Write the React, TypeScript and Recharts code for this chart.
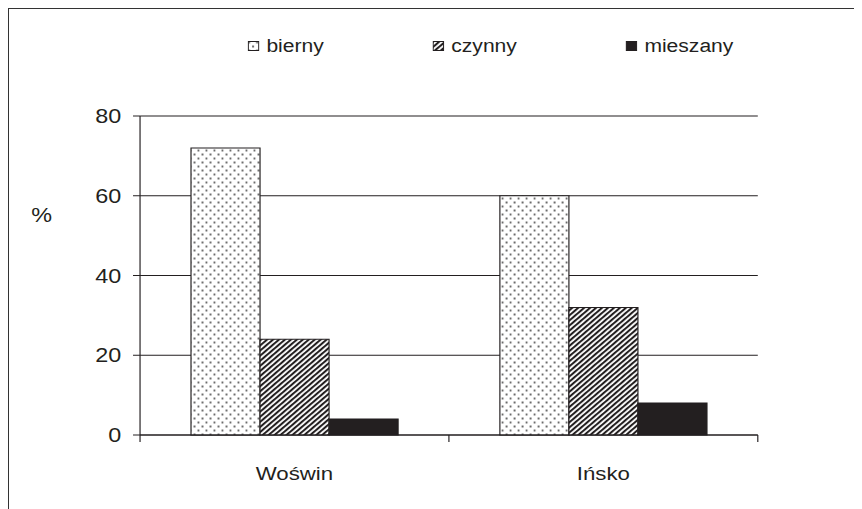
import { BarChart, Bar, XAxis, YAxis, CartesianGrid, Legend } from 'recharts';

const categories = ['Woświn', 'Ińsko'];
const bierny = [72, 60];
const czynny = [24, 32];
const mieszany = [4, 8];
const yTicks = [0, 20, 40, 60, 80];

const data = categories.map((name, i) => ({
  name,
  bierny: bierny[i],
  czynny: czynny[i],
  mieszany: mieszany[i],
}));

const INK = '#231f20';
// the source picture is stretched horizontally
const SX = 1.17;

const Patterns = () => (
  <svg width={0} height={0} style={{ position: 'absolute' }}>
    <defs>
      <pattern id='dots' patternUnits='userSpaceOnUse' width={6.84} height={8}>
        <rect width={6.84} height={8} fill='#fff' />
        <rect x={0.4} y={0.5} width={1.6} height={2} fill='#6a6a6a' />
        <rect x={3.82} y={4.5} width={1.6} height={2} fill='#6a6a6a' />
      </pattern>
      <pattern
        id='hatch'
        patternUnits='userSpaceOnUse'
        width={3.6}
        height={3.6}
        patternTransform='rotate(45)'
      >
        <rect width={3.6} height={3.6} fill='#fff' />
        <rect width={1.9} height={3.6} fill={INK} />
      </pattern>
    </defs>
  </svg>
);

const XTick = (props: any) => {
  const { x, y, payload, index, visibleTicksCount } = props;
  const half = payload?.offset ?? 0;
  const last = index === visibleTicksCount - 1;
  return (
    <g>
      <line x1={x - half} x2={x - half} y1={y} y2={y + 7} stroke={INK} />
      {last && <line x1={x + half} x2={x + half} y1={y} y2={y + 7} stroke={INK} />}
      <text x={x} y={y + 45} textAnchor='middle' fill={INK} fontSize={19}>
        {payload.value}
      </text>
    </g>
  );
};

const items = [
  { label: 'bierny', fill: 'url(#dots)' },
  { label: 'czynny', fill: 'url(#hatch)' },
  { label: 'mieszany', fill: INK },
];

const LegendContent = () => (
  <div style={{ display: 'flex', gap: 93, alignItems: 'center', fontSize: 18, color: INK, lineHeight: '20px' }}>
    {items.map((it) => (
      <div key={it.label} style={{ display: 'flex', alignItems: 'center', whiteSpace: 'nowrap' }}>
        <svg width={10} height={10}>
          <rect x={0.5} y={0.5} width={9} height={9} fill={it.fill} stroke={INK} />
        </svg>
        <span style={{ marginLeft: 6 }}>{it.label}</span>
      </div>
    ))}
  </div>
);

export default function App() {
  return (
    <div
      style={{
        width: 853,
        height: 500,
        borderLeft: '1px solid #333',
        borderTop: '1px solid #333',
        overflow: 'hidden',
        fontFamily: '"Liberation Sans", Arial, sans-serif',
      }}
    >
      <Patterns />
      <div style={{ transform: `scaleX(${SX})`, transformOrigin: '0 0', width: 729, height: 500 }}>
        <BarChart
          width={729}
          height={500}
          data={data}
          margin={{ top: 107, right: 89, bottom: 34, left: 0 }}
          barCategoryGap='16.5%'
          barGap={0}
          style={{ fontFamily: '"Liberation Sans", Arial, sans-serif' }}
        >
          <CartesianGrid vertical={false} stroke={INK} />
          <XAxis
            dataKey='name'
            height={40}
            tickSize={0}
            tickMargin={0}
            tickLine={false}
            axisLine={{ stroke: INK }}
            tick={<XTick />}
            interval={0}
          />
          <YAxis
            width={112}
            domain={[0, 80]}
            ticks={yTicks}
            interval={0}
            tickSize={6}
            tickMargin={10}
            axisLine={{ stroke: INK }}
            tickLine={{ stroke: INK }}
            tick={{ fill: INK, fontSize: 20 }}
            label={{
              content: ({ viewBox }: any) => (
                <text
                  x={viewBox.x + 28}
                  y={viewBox.y + 99}
                  textAnchor='middle'
                  dominantBaseline='central'
                  fill={INK}
                  fontSize={20}
                >
                  %
                </text>
              ),
            }}
          />
          <Legend
            verticalAlign='middle'
            align='center'
            wrapperStyle={{ top: 27, left: 204, width: 'auto', height: 'auto' }}
            content={LegendContent}
          />
          <Bar dataKey='bierny' fill='url(#dots)' stroke={INK} isAnimationActive={false} />
          <Bar dataKey='czynny' fill='url(#hatch)' stroke={INK} isAnimationActive={false} />
          <Bar dataKey='mieszany' fill={INK} stroke={INK} isAnimationActive={false} />
        </BarChart>
      </div>
    </div>
  );
}
